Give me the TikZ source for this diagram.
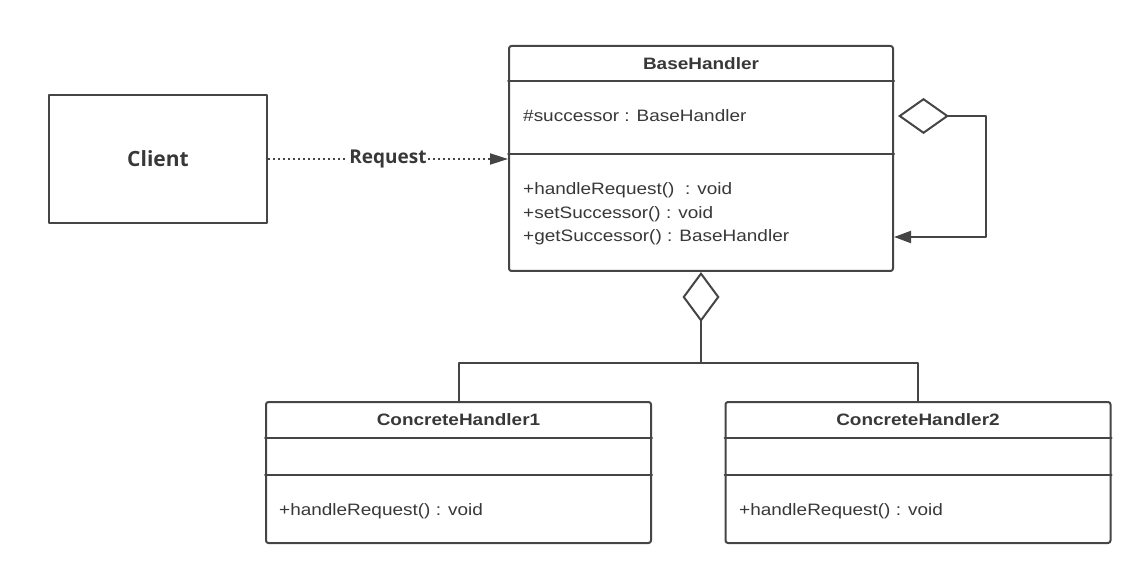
\documentclass[tikz,border=0pt]{standalone}
\usepackage{fontspec}
\setmainfont[FakeStretch=1.15]{Liberation Sans}
\newfontfamily\clientfont{Open Sans}
\usetikzlibrary{arrows.meta}
\definecolor{linegray}{HTML}{454545}
\definecolor{textgray}{HTML}{383838}

\tikzset{
	plainbox/.style={draw=linegray, line width=2, inner sep=0, text=textgray},
	umlbox/.style={draw=linegray, line width=2, rounded corners=2.5, inner sep=0},
	classname/.style={inner sep=0, text=textgray, font=\fontsize{16.5}{19}\selectfont\bfseries},
	member/.style={anchor=west, inner sep=0, text=textgray, font=\fontsize{16.5}{19}\selectfont},
	link/.style={draw=linegray, line width=2},
}

\begin{document}
\begin{tikzpicture}[x=1pt, y=-1pt, line cap=round, line join=round]
	\useasboundingbox (0,0) rectangle (1133,572);
	\node[plainbox, minimum width=218, minimum height=128, font=\clientfont\bfseries\fontsize{21}{24}\selectfont] (client) at (158,159) {Client};
	\node[umlbox, minimum width=384, minimum height=225] (base) at (701,158.5) {};
	\node[classname] (basename) at (701,63.5) {BaseHandler};
	\draw[link] (base.west |- 0,81) -- (base.east |- 0,81);
	\draw[link] (base.west |- 0,154) -- (base.east |- 0,154);
	\node[member] (succ) at (523,116) {\#successor : BaseHandler};
	\node[member] (handle) at (523,190) {+handleRequest()\ \ : void};
	\node[member] (setsucc) at (523,214) {+setSuccessor() : void};
	\node[member] (getsucc) at (523,237) {+getSuccessor() : BaseHandler};
	\node[umlbox, minimum width=385, minimum height=141] (ch1) at (458.5,472.5) {};
	\node[classname] (ch1name) at (458.5,420) {ConcreteHandler1};
	\draw[link] (ch1.west |- 0,438) -- (ch1.east |- 0,438);
	\draw[link] (ch1.west |- 0,475) -- (ch1.east |- 0,475);
	\node[member] (ch1op) at (279,511) {+handleRequest() : void};
	\node[umlbox, minimum width=385, minimum height=141] (ch2) at (918,472.5) {};
	\node[classname] (ch2name) at (918,420) {ConcreteHandler2};
	\draw[link] (ch2.west |- 0,438) -- (ch2.east |- 0,438);
	\draw[link] (ch2.west |- 0,475) -- (ch2.east |- 0,475);
	\node[member] (ch2op) at (739,511) {+handleRequest() : void};
	% client request
	\draw[link, line cap=butt, dash pattern=on 2pt off 3pt, -{Triangle[length=18, width=11]}] (client.east) -- node[fill=white, inner sep=1, text=textgray, font=\clientfont\bfseries\fontsize{19}{22}\selectfont] (req) {Request} (client.east -| base.west);
	% successor loop
	\draw[link, shorten <=4, {Diamond[open, length=51, width=36]}-{Triangle[length=17, width=12]}] (base.east |- succ) -- ++(92,0) |- (base.east |- getsucc);
	% aggregation to concrete handlers
	\draw[link, {Diamond[open, length=50, width=37]}-] (base.south) -- ++(0,91) coordinate (fork);
	\draw[link] (fork) -| (ch1.north);
	\draw[link] (fork) -| (ch2.north);
\end{tikzpicture}
\end{document}
